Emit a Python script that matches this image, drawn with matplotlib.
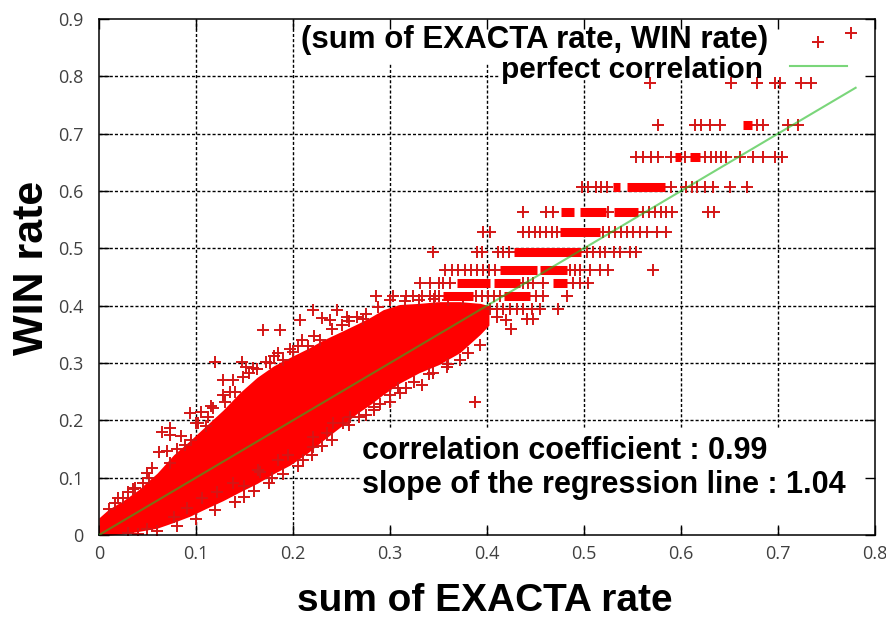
import matplotlib
matplotlib.use("Agg")
import matplotlib.pyplot as plt
from matplotlib.patches import Rectangle

plt.rcParams['font.family'] = ['Liberation Sans', 'DejaVu Sans']

# ---------------------------
# data
# ---------------------------
# solid core of the cloud (lower / upper edge along x)
core_x = [0.000, 0.010, 0.025, 0.040, 0.060, 0.077, 0.094, 0.110, 0.128, 0.145, 0.163, 0.180,
          0.197, 0.215, 0.231, 0.250, 0.266, 0.280, 0.293, 0.310, 0.330, 0.350, 0.372, 0.393, 0.402]
core_lo = [0.000, 0.000, 0.002, 0.006, 0.012, 0.022, 0.033, 0.046, 0.060, 0.075, 0.090, 0.107,
           0.122, 0.143, 0.165, 0.190, 0.212, 0.228, 0.245, 0.265, 0.283, 0.297, 0.318, 0.350, 0.366]
core_hi = [0.030, 0.045, 0.060, 0.078, 0.108, 0.140, 0.165, 0.190, 0.218, 0.248, 0.275, 0.295,
           0.310, 0.325, 0.340, 0.355, 0.368, 0.380, 0.393, 0.402, 0.404, 0.407, 0.407, 0.404, 0.400]

# scattered points around the core
fringe_x = [0.016, 0.030, 0.037, 0.049, 0.052, 0.062, 0.073, 0.089, 0.065, 0.073, 0.073, 0.094,
            0.102, 0.095, 0.110, 0.128, 0.120, 0.147, 0.152, 0.159, 0.128, 0.138, 0.148, 0.169,
            0.187, 0.207, 0.221, 0.245, 0.230, 0.238, 0.209, 0.228, 0.256, 0.266, 0.272, 0.190,
            0.176, 0.200, 0.215, 0.140, 0.115, 0.105, 0.080, 0.045, 0.025, 0.010,
            0.077, 0.091, 0.106, 0.122, 0.138, 0.164, 0.178, 0.185, 0.166, 0.210, 0.221, 0.221,
            0.235, 0.241, 0.252, 0.259, 0.283, 0.283, 0.300, 0.308, 0.317, 0.333, 0.344, 0.359,
            0.372, 0.393, 0.388, 0.425, 0.441, 0.447, 0.410, 0.420, 0.050, 0.030, 0.150, 0.195,
            0.775,
            # ragged upper edge
            0.020, 0.035, 0.055, 0.070, 0.085, 0.100, 0.118, 0.135, 0.155, 0.172, 0.185, 0.205,
            0.222, 0.240, 0.258, 0.275, 0.288, 0.300, 0.163, 0.180, 0.197, 0.250, 0.130, 0.112,
            0.315, 0.330, 0.345, 0.360, 0.375,
            # ragged lower edge
            0.040, 0.060, 0.080, 0.100, 0.120, 0.140, 0.160, 0.175, 0.190, 0.205, 0.220, 0.240,
            0.258, 0.275, 0.290, 0.310, 0.325, 0.340, 0.360, 0.380, 0.150, 0.230, 0.268, 0.300]
fringe_y = [0.056, 0.075, 0.082, 0.108, 0.100, 0.145, 0.126, 0.157, 0.180, 0.174, 0.186, 0.212,
            0.195, 0.165, 0.190, 0.244, 0.302, 0.302, 0.293, 0.291, 0.270, 0.270, 0.276, 0.357,
            0.357, 0.375, 0.392, 0.392, 0.378, 0.375, 0.340, 0.340, 0.380, 0.380, 0.376, 0.305,
            0.300, 0.320, 0.330, 0.250, 0.225, 0.215, 0.150, 0.090, 0.065, 0.045,
            0.031, 0.047, 0.065, 0.075, 0.090, 0.113, 0.100, 0.131, 0.110, 0.131, 0.154, 0.171,
            0.178, 0.195, 0.195, 0.206, 0.218, 0.224, 0.232, 0.256, 0.256, 0.261, 0.282, 0.293,
            0.305, 0.331, 0.232, 0.360, 0.376, 0.376, 0.380, 0.375, 0.010, 0.003, 0.085, 0.140,
            0.875,
            0.064, 0.080, 0.116, 0.146, 0.172, 0.196, 0.222, 0.250, 0.282, 0.302, 0.318, 0.330,
            0.347, 0.360, 0.373, 0.386, 0.398, 0.410, 0.290, 0.312, 0.324, 0.366, 0.232, 0.205,
            0.408, 0.410, 0.412, 0.410, 0.411,
            0.001, 0.007, 0.016, 0.028, 0.044, 0.058, 0.076, 0.091, 0.106, 0.121, 0.140, 0.166,
            0.192, 0.210, 0.229, 0.248, 0.266, 0.280, 0.298, 0.317, 0.066, 0.155, 0.205, 0.244]

# horizontal rows of points at high rates
row_y = [0.395, 0.416, 0.439, 0.463, 0.493, 0.528, 0.563, 0.607, 0.659, 0.715, 0.788]
row_x = [
    [0.403, 0.410, 0.417, 0.424, 0.431, 0.437, 0.446, 0.455, 0.473],
    [0.286, 0.303, 0.317, 0.324, 0.333, 0.341, 0.346, 0.351, 0.389, 0.395, 0.401, 0.407, 0.413,
     0.451, 0.458, 0.482],
    [0.331, 0.341, 0.350, 0.355, 0.362, 0.437, 0.442, 0.447, 0.458, 0.489, 0.496, 0.504],
    [0.357, 0.364, 0.370, 0.377, 0.383, 0.390, 0.396, 0.402, 0.408, 0.486, 0.491, 0.496, 0.506,
     0.516, 0.525, 0.571],
    [0.344, 0.390, 0.395, 0.411, 0.417, 0.423, 0.503, 0.509, 0.516, 0.522, 0.531, 0.537, 0.547,
     0.554],
    [0.396, 0.403, 0.437, 0.443, 0.449, 0.455, 0.461, 0.467, 0.472, 0.520, 0.526, 0.532, 0.538,
     0.544, 0.551, 0.558, 0.565, 0.575, 0.585],
    [0.437, 0.461, 0.468, 0.525, 0.561, 0.567, 0.573, 0.579, 0.585, 0.591, 0.628, 0.634],
    [0.498, 0.504, 0.512, 0.518, 0.524, 0.590, 0.605, 0.611, 0.616, 0.625, 0.633, 0.650, 0.668],
    [0.554, 0.561, 0.569, 0.576, 0.590, 0.604, 0.625, 0.631, 0.636, 0.641, 0.646, 0.661, 0.674,
     0.684, 0.697, 0.704],
    [0.576, 0.614, 0.621, 0.630, 0.640, 0.678, 0.685, 0.710, 0.721],
    [0.568, 0.652, 0.678, 0.697, 0.702, 0.724, 0.734],
]
# stretches of a row so dense that they look solid (start, end)
row_blocks = [
    [],
    [(0.355, 0.386), (0.418, 0.444)],
    [(0.369, 0.403), (0.407, 0.434), (0.468, 0.482)],
    [(0.413, 0.452), (0.455, 0.482)],
    [(0.428, 0.497)],
    [(0.475, 0.516)],
    [(0.476, 0.490), (0.496, 0.523), (0.531, 0.556)],
    [(0.530, 0.537), (0.544, 0.584)],
    [(0.594, 0.600), (0.609, 0.620)],
    [(0.664, 0.673)],
    [],
]

line_x = [0.0, 0.78]
line_y = [0.0, 0.78]

x_ticks = [0, 0.1, 0.2, 0.3, 0.4, 0.5, 0.6, 0.7, 0.8]
y_ticks = [0, 0.1, 0.2, 0.3, 0.4, 0.5, 0.6, 0.7, 0.8, 0.9]

red = '#ff0000'
plus_red = '#d41616'
green = '#22bb22'

# ---------------------------
# plot
# ---------------------------
fig = plt.figure(figsize=(8.87, 6.2), dpi=100)
ax = fig.add_axes([0.1116, 0.1371, 0.8749, 0.8323])
ax.set_xlim(0, 0.8)
ax.set_ylim(0, 0.9)

# dashed grid drawn by hand so boxes can hide it while ticks stay on top
for v in x_ticks[1:-1]:
    ax.axvline(v, color='black', lw=1.0, ls=(0, (2.2, 1.5)), zorder=0.6)
for v in y_ticks[1:-1]:
    ax.axhline(v, color='black', lw=1.0, ls=(0, (2.2, 1.5)), zorder=0.6)

# white backgrounds behind key and annotation
for (x0, y0, w, h) in [(0.254, 0.915, 0.746, 0.085), (0.517, 0.884, 0.483, 0.031),
                       (0.338, 0.0155, 0.662, 0.19)]:
    ax.add_patch(Rectangle((x0, y0), w, h, transform=ax.transAxes, facecolor='white',
                           edgecolor='none', zorder=1))

ax.fill_between(core_x, core_lo, core_hi, color=red, lw=0, zorder=2)
ax.plot(fringe_x, fringe_y, ls='none', marker='+', ms=8, mew=1.4, color=plus_red, zorder=2)
for y, xs, blocks in zip(row_y, row_x, row_blocks):
    ax.plot(xs, [y] * len(xs), ls='none', marker='+', ms=8, mew=1.4, color=plus_red, zorder=2)
    for x0, x1 in blocks:
        ax.plot([x0, x1], [y, y], color=red, lw=6.5, solid_capstyle='butt', zorder=2)

ax.plot(line_x, line_y, color=green, lw=1.5, alpha=0.6, zorder=3)

# key
ax.text(0.862, 0.944, '(sum of EXACTA rate, WIN rate)', transform=ax.transAxes,
        ha='right', va='baseline', fontsize=22.5, fontweight='bold', zorder=4)
ax.text(0.856, 0.886, 'perfect correlation', transform=ax.transAxes,
        ha='right', va='baseline', fontsize=21.5, fontweight='bold', zorder=4)
ax.plot([0.9265], [0.955], transform=ax.transAxes, marker='+', ms=8, mew=1.4,
        color=plus_red, zorder=4)
ax.plot([0.890, 0.964], [0.909, 0.909], transform=ax.transAxes, color=green,
        lw=1.5, alpha=0.6, zorder=4)

ax.text(0.339, 0.147, 'correlation coefficient : 0.99', transform=ax.transAxes,
        ha='left', va='baseline', fontsize=22, fontweight='bold', zorder=4)
ax.text(0.339, 0.081, 'slope of the regression line : 1.04', transform=ax.transAxes,
        ha='left', va='baseline', fontsize=22, fontweight='bold', zorder=4)

ax.set_xticks(x_ticks)
ax.set_yticks(y_ticks)
ax.set_xticklabels([f'{v:g}' for v in x_ticks])
ax.set_yticklabels([f'{v:g}' for v in y_ticks])
ax.tick_params(direction='in', length=7, width=1, top=True, right=True,
               labelsize=13, labelcolor='#404040')
ax.tick_params(axis='x', pad=7)
ax.tick_params(axis='y', pad=11)
for lab in ax.get_xticklabels() + ax.get_yticklabels():
    lab.set_fontfamily(['Open Sans', 'DejaVu Sans'])
for s in ax.spines.values():
    s.set_linewidth(1.1)

ax.set_xlabel('sum of EXACTA rate', fontsize=28, fontweight='bold')
ax.set_ylabel('WIN rate', fontsize=31, fontweight='bold')
ax.xaxis.set_label_coords(0.497, -0.128)
ax.yaxis.set_label_coords(-0.086, 0.517)
ax.xaxis.label.set_va('center')
ax.yaxis.label.set_va('center')

fig.savefig('out.png', dpi=100)
